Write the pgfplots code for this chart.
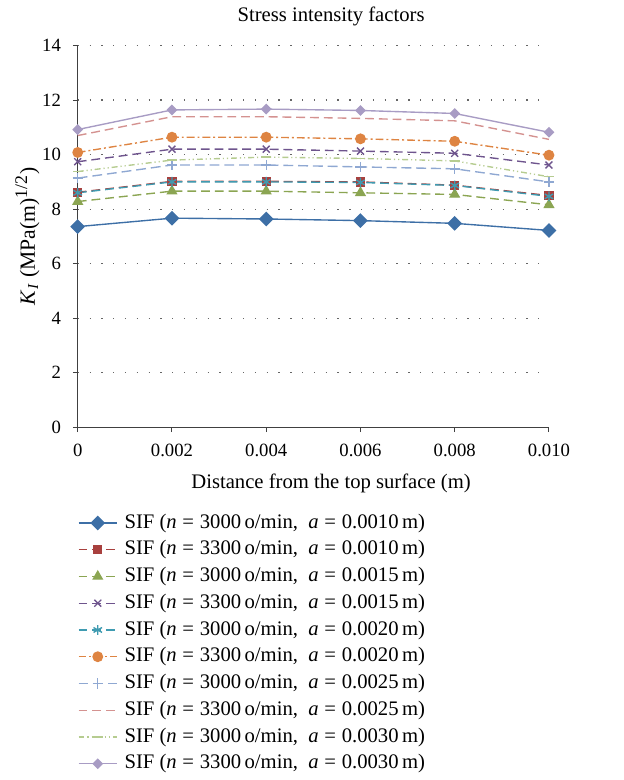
\documentclass[border=0pt]{standalone}
\usepackage{fontspec}
\setmainfont{Liberation Serif}
\usepackage{pgfplots}
\pgfplotsset{compat=1.18}

\definecolor{c1}{HTML}{3D6FA6}
\definecolor{c2}{HTML}{A8403E}
\definecolor{c3}{HTML}{8BA552}
\definecolor{c4}{HTML}{6E548D}
\definecolor{c5}{HTML}{3F9BB1}
\definecolor{c6}{HTML}{DE8442}
\definecolor{c7}{HTML}{8FA8D2}
\definecolor{c8}{HTML}{D49290}
\definecolor{c9}{HTML}{B6CC90}
\definecolor{c10}{HTML}{A89CC4}

\newcommand{\sif}[2]{SIF (\textit{n}\;=\;#1\,o/min,\ \ \textit{a}\;=\;#2\,m)}

\begin{document}
\begin{tikzpicture}
\begin{axis}[
    scale only axis,
    width=239.5pt,
    height=194pt,
    xmin=0, xmax=0.010,
    ymin=0, ymax=14,
    clip=false,
    axis x line*=bottom,
    axis y line*=left,
    axis line style={draw=black!75, line width=0.5pt, -},
    tick style={draw=black!75, line width=0.5pt},
    tick align=outside,
    major tick length=2.5pt,
    xtick={0,0.002,0.004,0.006,0.008,0.010},
    xticklabels={0,0.002,0.004,0.006,0.008,0.010},
    ytick={0,2,4,6,8,10,12,14},
    scaled x ticks=false,
    /pgf/number format/assume math mode=true,
    ymajorgrids,
    grid style={draw=black!60, line width=0.65pt, dash pattern=on 0.65pt off 5.35pt},
    font=\fontsize{10.5}{12.6}\selectfont,
    tick label style={font=\fontsize{9.5}{11.4}\selectfont},
    xticklabel style={yshift=-2.5pt},
    yticklabel style={xshift=-2.5pt},
    every axis title shift=0pt,
    title={Stress intensity factors},
    title style={at={(axis description cs:0.5376,1.0773)}, anchor=center, font=\fontsize{10.5}{12.6}\selectfont},
    xlabel={Distance from the top surface (m)},
    xlabel style={at={(axis description cs:0.5376,-0.147)}, anchor=center},
    ylabel={\textit{K}\textsubscript{\textit{I}} (MPa(m)\textsuperscript{\fontsize{9}{10}\selectfont 1/2})},
    ylabel style={at={(axis description cs:-0.1065,0.5)}, anchor=center, font=\fontsize{11}{13}\selectfont},
    legend cell align={left},
    legend image code/.code={\draw[mark repeat=2,mark phase=2] plot coordinates {(0pt,0pt) (9.75pt,0pt) (19.5pt,0pt)};},
    legend style={at={(axis description cs:-0.013,-0.207)}, anchor=north west, draw=none, fill=none,
        font=\fontsize{10.5}{12.6}\selectfont, row sep=1.1pt,
        nodes={inner sep=1pt, text height=7.9pt, text depth=2.6pt},
        /tikz/every odd column/.append style={column sep=2.5pt}},
    every axis plot/.append style={line width=0.7pt},
]
\addplot[c1, solid, mark=square*, mark size=2.3pt, mark options={rotate=45, solid, fill=c1}] coordinates {
(0,7.36) (0.002,7.67) (0.004,7.64) (0.006,7.58) (0.008,7.48) (0.010,7.22)};
\addlegendentry{\sif{3000}{0.0010}}
\addplot[c2, dash pattern=on 4.5pt off 2.5pt, mark=square*, mark size=2pt, mark options={solid, fill=c2}] coordinates {
(0,8.62) (0.002,9.02) (0.004,9.02) (0.006,9.00) (0.008,8.88) (0.010,8.50)};
\addlegendentry{\sif{3300}{0.0010}}
\addplot[c3, dash pattern=on 4.5pt off 2.5pt, mark=triangle*, mark size=2.6pt, mark options={solid, fill=c3}] coordinates {
(0,8.28) (0.002,8.66) (0.004,8.66) (0.006,8.60) (0.008,8.54) (0.010,8.16)};
\addlegendentry{\sif{3000}{0.0015}}
\addplot[c4, dash pattern=on 4.5pt off 2.5pt, mark=x, mark size=2.5pt, mark options={solid}] coordinates {
(0,9.74) (0.002,10.20) (0.004,10.20) (0.006,10.13) (0.008,10.05) (0.010,9.62)};
\addlegendentry{\sif{3300}{0.0015}}
\addplot[c5, dash pattern=on 4.5pt off 2.5pt, mark=asterisk, mark size=2.5pt, mark options={solid}] coordinates {
(0,8.60) (0.002,9.00) (0.004,9.00) (0.006,8.98) (0.008,8.87) (0.010,8.47)};
\addlegendentry{\sif{3000}{0.0020}}
\addplot[c6, dash pattern=on 4pt off 1.5pt on 1pt off 1.5pt, mark=*, mark size=2.4pt, mark options={solid, fill=c6}] coordinates {
(0,10.08) (0.002,10.64) (0.004,10.64) (0.006,10.58) (0.008,10.49) (0.010,9.98)};
\addlegendentry{\sif{3300}{0.0020}}
\addplot[c7, dash pattern=on 5pt off 2.5pt, mark=+, mark size=2.6pt, mark options={solid}] coordinates {
(0,9.14) (0.002,9.62) (0.004,9.62) (0.006,9.55) (0.008,9.48) (0.010,9.00)};
\addlegendentry{\sif{3000}{0.0025}}
\addplot[c8, dash pattern=on 4.5pt off 2.5pt] coordinates {
(0,10.70) (0.002,11.39) (0.004,11.39) (0.006,11.33) (0.008,11.24) (0.010,10.56)};
\addlegendentry{\sif{3300}{0.0025}}
\addplot[c9, dash pattern=on 3pt off 1.5pt on 0.6pt off 1.5pt on 0.6pt off 1.5pt, mark=-, mark size=2.5pt, mark options={solid}] coordinates {
(0,9.38) (0.002,9.80) (0.004,9.91) (0.006,9.86) (0.008,9.77) (0.010,9.19)};
\addlegendentry{\sif{3000}{0.0030}}
\addplot[c10, solid, mark=square*, mark size=1.6pt, mark options={rotate=45, solid, fill=c10}] coordinates {
(0,10.92) (0.002,11.64) (0.004,11.67) (0.006,11.62) (0.008,11.51) (0.010,10.82)};
\addlegendentry{\sif{3300}{0.0030}}
% page frame, same size as the reference
\path (rel axis cs:0,0) ++(-39.5pt,-175pt) rectangle ++(317pt,390pt);
\end{axis}
\end{tikzpicture}
\end{document}
